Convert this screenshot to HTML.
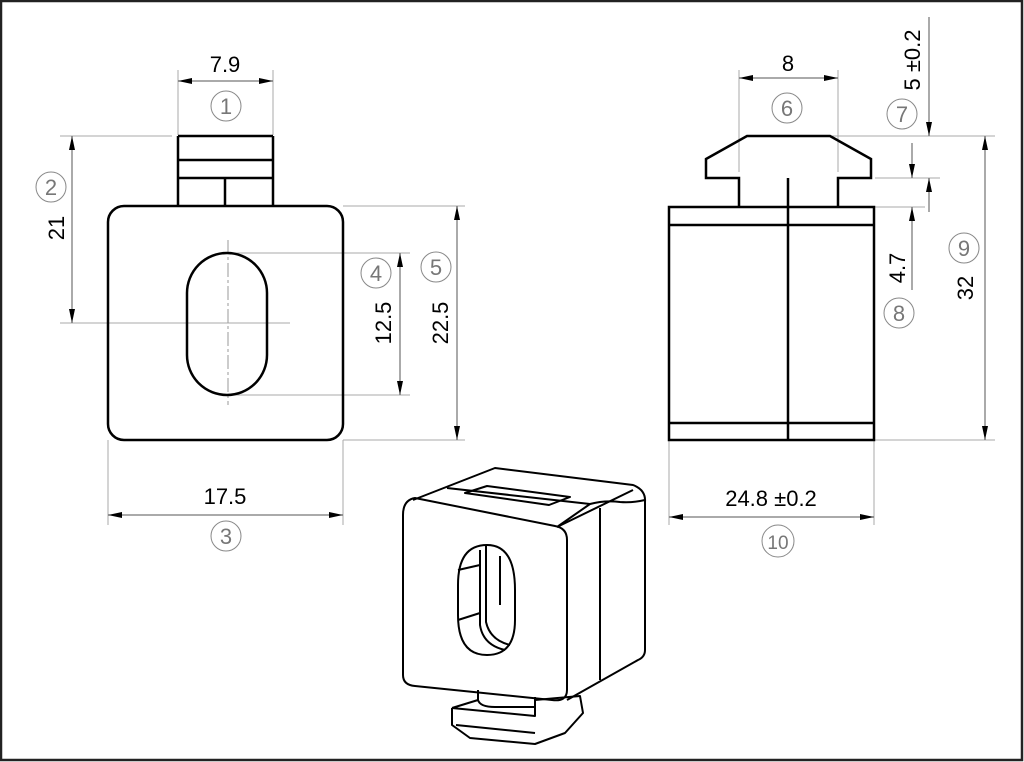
<!DOCTYPE html>
<html><head><style>
html,body{margin:0;padding:0;background:#fff}
svg{display:block}
text{font-family:"Liberation Sans",sans-serif}
.c{font-family:"Liberation Serif",serif;fill:#777;font-size:22px}
</style></head><body>
<svg width="1024" height="762" viewBox="0 0 1024 762" xmlns="http://www.w3.org/2000/svg">
<defs>
<marker id="a" viewBox="0 0 14 6" refX="14" refY="3" markerWidth="14" markerHeight="6" orient="auto-start-reverse" markerUnits="userSpaceOnUse"><path d="M0,0L14,3L0,6z" fill="#000"/></marker>
</defs>
<rect x="1" y="1" width="1021" height="759" fill="#fff" stroke="#222" stroke-width="2.5"/>

<g stroke="#aaa" stroke-width="1" fill="none">
<line x1="178" y1="70" x2="178" y2="135"/><line x1="273" y1="70" x2="273" y2="135"/>
<line x1="60" y1="136" x2="172" y2="136"/><line x1="60" y1="323" x2="290" y2="323"/>
<line x1="108" y1="440" x2="108" y2="525"/><line x1="343" y1="440" x2="343" y2="525"/>
<line x1="230" y1="253" x2="410" y2="253"/><line x1="230" y1="395" x2="410" y2="395"/>
<line x1="343" y1="206" x2="465" y2="206"/><line x1="343" y1="440" x2="465" y2="440"/>
<line x1="739" y1="70" x2="739" y2="172"/><line x1="838" y1="70" x2="838" y2="172"/>
<line x1="830" y1="136" x2="995" y2="136"/><line x1="875" y1="178" x2="940" y2="178"/>
<line x1="875" y1="207" x2="925" y2="207"/><line x1="874" y1="440" x2="995" y2="440"/>
<line x1="669" y1="440" x2="669" y2="525"/><line x1="874" y1="440" x2="874" y2="525"/>
</g>
<g stroke="#999" stroke-width="1" stroke-dasharray="14,3,3,3">
<line x1="228" y1="240" x2="228" y2="405"/>
</g>

<g stroke="#555" stroke-width="1" fill="none">
<line x1="178" y1="81" x2="273" y2="81" marker-start="url(#a)" marker-end="url(#a)"/>
<line x1="72" y1="136" x2="72" y2="323" marker-start="url(#a)" marker-end="url(#a)"/>
<line x1="108" y1="515" x2="343" y2="515" marker-start="url(#a)" marker-end="url(#a)"/>
<line x1="400" y1="253" x2="400" y2="395" marker-start="url(#a)" marker-end="url(#a)"/>
<line x1="457" y1="206" x2="457" y2="440" marker-start="url(#a)" marker-end="url(#a)"/>
<line x1="739" y1="78" x2="838" y2="78" marker-start="url(#a)" marker-end="url(#a)"/>
<line x1="929" y1="17" x2="929" y2="136" marker-end="url(#a)"/>
<line x1="929" y1="212" x2="929" y2="178" marker-end="url(#a)"/>
<line x1="912" y1="143" x2="912" y2="178" marker-end="url(#a)"/>
<line x1="912" y1="290" x2="912" y2="207" marker-end="url(#a)"/>
<line x1="985" y1="136" x2="985" y2="440" marker-start="url(#a)" marker-end="url(#a)"/>
<line x1="669" y1="517" x2="874" y2="517" marker-start="url(#a)" marker-end="url(#a)"/>
</g>

<g font-size="22" fill="#000">
<text x="225" y="72" text-anchor="middle">7.9</text>
<text x="225" y="504" text-anchor="middle">17.5</text>
<text x="788" y="71" text-anchor="middle">8</text>
<text x="771" y="506" text-anchor="middle">24.8 ±0.2</text>
<text transform="translate(64,228) rotate(-90)" text-anchor="middle">21</text>
<text transform="translate(391,323) rotate(-90)" text-anchor="middle">12.5</text>
<text transform="translate(448,323) rotate(-90)" text-anchor="middle">22.5</text>
<text transform="translate(920,60) rotate(-90)" text-anchor="middle">5 ±0.2</text>
<text transform="translate(905,268) rotate(-90)" text-anchor="middle">4.7</text>
<text transform="translate(973,288) rotate(-90)" text-anchor="middle">32</text>
</g>

<g fill="none" stroke="#888" stroke-width="1">
<circle cx="226" cy="106" r="15"/><circle cx="51" cy="187" r="15"/><circle cx="226" cy="536" r="15"/>
<circle cx="376" cy="273" r="15"/><circle cx="436" cy="267" r="15"/><circle cx="787" cy="108" r="15"/>
<circle cx="902" cy="114" r="15"/><circle cx="899" cy="313" r="15"/><circle cx="964" cy="248" r="15"/>
<circle cx="778" cy="541" r="16"/>
</g>
<g class="c" text-anchor="middle">
<text x="226" y="114">1</text><text x="51" y="195">2</text><text x="226" y="544">3</text>
<text x="376" y="281">4</text><text x="436" y="275">5</text><text x="787" y="116">6</text>
<text x="902" y="122">7</text><text x="899" y="321">8</text><text x="964" y="256">9</text>
<text x="778" y="549" font-size="19">10</text>
</g>

<g fill="none" stroke="#000" stroke-width="2.5">
<rect x="108" y="206" width="235" height="234" rx="16"/>
<rect x="187" y="253" width="80" height="142" rx="40"/>
<line x1="178" y1="136" x2="273" y2="136"/><line x1="178" y1="136" x2="178" y2="206"/><line x1="273" y1="136" x2="273" y2="206"/>
<line x1="178" y1="160" x2="273" y2="160"/><line x1="178" y1="178" x2="273" y2="178"/>
<line x1="225" y1="178" x2="225" y2="206"/>
</g>

<g fill="none" stroke="#000" stroke-width="2.5">
<rect x="669" y="207" width="205" height="233"/>
<line x1="669" y1="225" x2="874" y2="225"/><line x1="669" y1="423" x2="874" y2="423"/>
<line x1="788" y1="178" x2="788" y2="440"/>
<path d="M739,207V178H706V159L747,136H830L871,159V178H838V207"/>
</g>

<g fill="none" stroke="#000" stroke-width="2" stroke-linejoin="round">
<path d="M413,500L495,468L633,485Q646,490 645,502V650Q645,657 638,660L567,700"/>
<path d="M415,498Q403,500 403,515V675Q403,685 415,686L552,700Q567,702 567,690V540Q567,528 555,526L415,498Z"/>
<path d="M557,527L590,504Q605,500 620,502Q632,503 645,500"/>
<path d="M557,527L633,490"/>
<path d="M600,508V680"/>
<path d="M447,488L590,504"/>
<path d="M465,493L487,486L570,497L549,505Z"/>
<path d="M487,545Q458,545 458,585V615Q458,655 487,655Q515,655 515,620V590Q515,545 487,545Z"/>
<path d="M480,550V625Q483,645 505,650"/><path d="M486,546V622Q490,640 510,645"/>
<path d="M458,570L480,565M458,620L480,613"/>
<path d="M500,556V605"/>
<path d="M478,690V700Q480,707 495,707H535V697"/>
<path d="M452,708L478,700M452,708V725L470,738L535,744L565,733L583,713L580,696L535,700V716L452,708"/>
<path d="M456,725L535,733"/>
</g>
</svg>
</body></html>
